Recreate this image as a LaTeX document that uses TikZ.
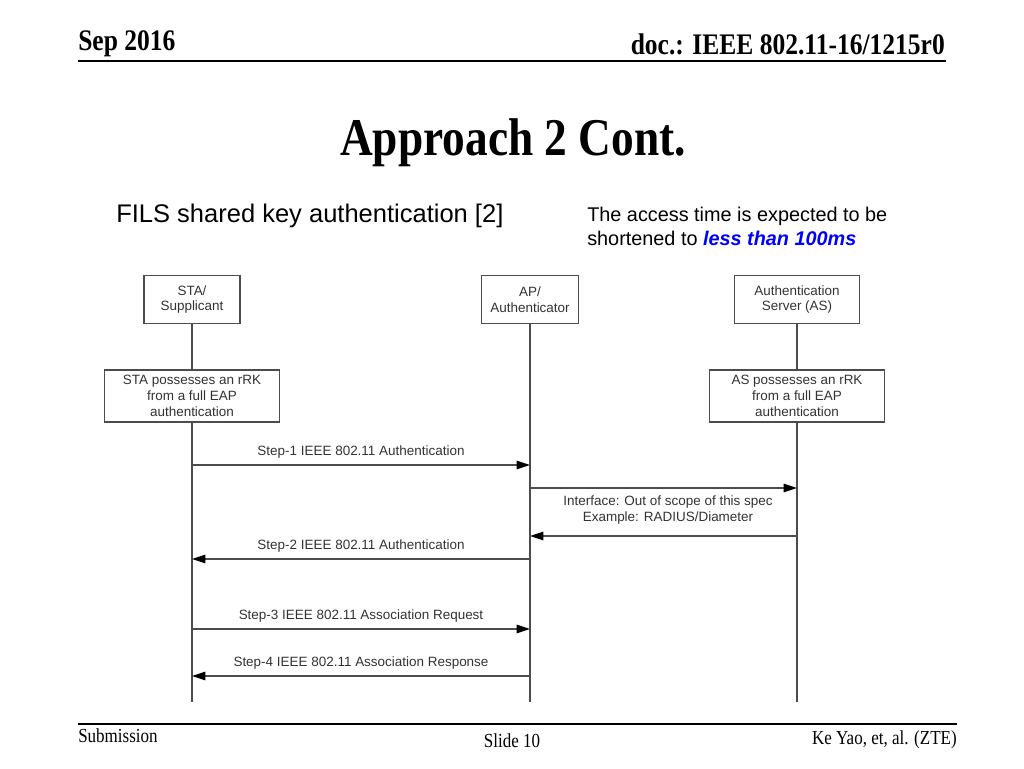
\documentclass[tikz,border=0pt]{standalone}
\usepackage{fontspec}
\setmainfont{Liberation Serif}
\newfontfamily\arialfont{Liberation Sans}
\usetikzlibrary{arrows.meta}
\tikzset{
  party/.style={draw=black!70,line width=0.8pt,align=center,inner sep=0pt,
    font=\arialfont\fontsize{9.5}{11.2}\selectfont,text=black!80,minimum height=11.7mm},
  keybox/.style={party,minimum width=43.2mm,minimum height=12.9mm},
  life/.style={draw=black!70,line width=0.8pt},
  msg/.style={life,-{Triangle[length=3.3mm,width=2.1mm,black]}},
  lbl/.style={font=\arialfont\fontsize{9.5}{11.2}\selectfont,text=black!80}
}
\newcommand{\tall}[1]{\scalebox{1}[1.17]{#1}}
\begin{document}
\begin{tikzpicture}[x=0.248mm,y=-0.248mm]
	\useasboundingbox (0,0) rectangle (1024,768);
	% header and footer
	\node[anchor=base west,font=\bfseries\fontsize{18}{18}\selectfont,inner sep=0pt] (date) at (78,50) {\tall{Sep 2016}};
	\node[anchor=base east,font=\bfseries\fontsize{18}{18}\selectfont,inner sep=0pt] (doc) at (945,54) {\tall{doc.: IEEE 802.11-16/1215r0}};
	\coordinate (hl) at (78,61);
	\coordinate (hr) at (946,61);
	\draw[line width=1.4pt] (hl)--(hr);
	\coordinate (fl) at (78,724);
	\coordinate (fr) at (957,724);
	\draw[line width=0.8pt] (fl)--(fr);
	\node[anchor=base west,font=\fontsize{12}{12}\selectfont,inner sep=0pt] (sub) at (78,742) {\tall{Submission}};
	\node[anchor=base,font=\fontsize{12}{12}\selectfont,inner sep=0pt] (slide) at (512,747) {\tall{Slide 10}};
	\node[anchor=base east,font=\fontsize{12}{12}\selectfont,inner sep=0pt] (auth) at (957,744) {\tall{Ke Yao, et, al. (ZTE)}};
	% title and texts
	\node[anchor=base,font=\bfseries\fontsize{32}{32}\selectfont,inner sep=0pt] (title) at (513,155) {\tall{Approach 2 Cont.}};
	\node[anchor=base west,font=\arialfont\fontsize{18}{18}\selectfont,inner sep=0pt] (fils) at (116,222) {FILS shared key authentication [2]};
	\node[anchor=base west,font=\arialfont\fontsize{14}{16.9}\selectfont,inner sep=0pt,align=left] (note) at (587,245)
		{The access time is expected to be\\shortened to {\color{blue}\bfseries\itshape less than 100ms}};
	% parties
	\node[party,minimum width=23.8mm] (sta) at (192,299.5) {STA/\\Supplicant};
	\node[party,minimum width=24.1mm] (ap) at (530,299.5) {AP/\\Authenticator};
	\node[party,minimum width=31.2mm] (as) at (797,299.5) {Authentication\\Server (AS)};
	\node[keybox] (staK) at (192,396) {STA possesses an rRK\\from a full EAP\\authentication};
	\node[keybox] (asK) at (797,396) {AS possesses an rRK\\from a full EAP\\authentication};
	\coordinate (staEnd) at (192,702);
	\coordinate (apEnd) at (530,702);
	\coordinate (asEnd) at (797,702);
	\draw[life] (sta)--(staK) (staK)--(staEnd);
	\draw[life] (ap)--(apEnd);
	\draw[life] (as)--(asK) (asK)--(asEnd);
	\foreach \n/\y in {1/465,2/488,3/536,4/559,5/629,6/676} {
		\coordinate (sta\n) at (192,\y);
		\coordinate (ap\n) at (530,\y);
		\coordinate (as\n) at (797,\y);
	}
	% messages
	\draw[msg] (sta1)-- node[lbl,above=1pt] {Step-1 IEEE 802.11 Authentication} (ap1);
	\draw[msg] (ap2)--(as2);
	\node[lbl,align=center] (iface) at (668,510) {Interface: Out of scope of this spec\\Example: RADIUS/Diameter};
	\draw[msg] (as3)--(ap3);
	\draw[msg] (ap4)-- node[lbl,above=1pt] {Step-2 IEEE 802.11 Authentication} (sta4);
	\draw[msg] (sta5)-- node[lbl,above=1pt] {Step-3 IEEE 802.11 Association Request} (ap5);
	\draw[msg] (ap6)-- node[lbl,above=1pt] {Step-4 IEEE 802.11 Association Response} (sta6);
\end{tikzpicture}
\end{document}
